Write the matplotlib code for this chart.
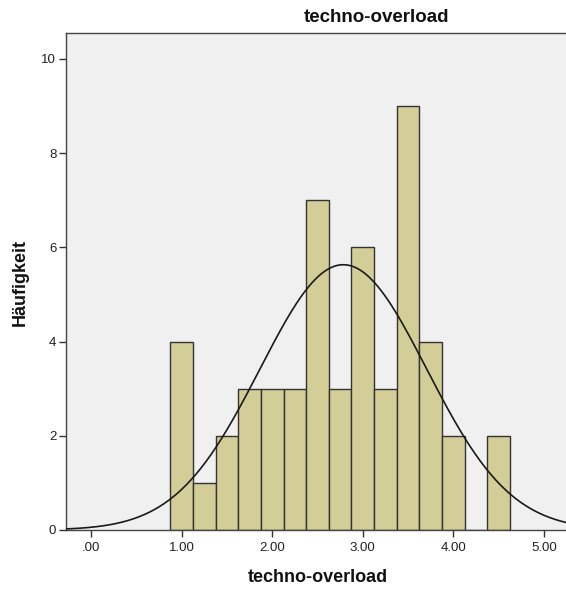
import numpy as np
import matplotlib
matplotlib.use("Agg")
import matplotlib.pyplot as plt

# ---- data ----
bin_centers = [1.00, 1.25, 1.50, 1.75, 2.00, 2.25, 2.50, 2.75, 3.00, 3.25, 3.50, 3.75, 4.00, 4.25, 4.50]
counts      = [4,    1,    2,    3,    3,    3,    7,    3,    6,    3,    9,    4,    2,    0,    2]
bin_width = 0.25
curve_mean = 2.785
curve_std = 0.921
n_total = sum(counts)
x_ticks = [0, 1, 2, 3, 4, 5]
x_tick_labels = [".00", "1.00", "2.00", "3.00", "4.00", "5.00"]
y_ticks = [0, 2, 4, 6, 8, 10]
title = "techno-overload"
x_label = "techno-overload"
y_label = "Häufigkeit"

plt.rcParams['font.family'] = ['Liberation Sans', 'DejaVu Sans']

fig = plt.figure(figsize=(5.66, 5.90), dpi=100)
fig.patch.set_facecolor("white")
ax = fig.add_axes([66/566, 1 - 530/590, 1 - 66/566, (530 - 33)/590])
ax.set_facecolor("#f0f0f0")

ax.bar(bin_centers, counts, width=bin_width, color="#d3ce97",
       edgecolor="#333333", linewidth=1.0, zorder=2)

xlim = (-0.276, 5.243)
xs = np.linspace(xlim[0], xlim[1], 400)
ys = n_total * bin_width / (curve_std * np.sqrt(2 * np.pi)) * np.exp(-0.5 * ((xs - curve_mean) / curve_std) ** 2)
ax.plot(xs, ys, color="#1a1a1a", linewidth=1.2, zorder=3)

ax.set_xlim(*xlim)
ax.set_ylim(0, 10.55)
ax.set_xticks(x_ticks)
ax.set_xticklabels(x_tick_labels)
ax.set_yticks(y_ticks)
ax.tick_params(axis="both", direction="out", length=5, width=1.0,
               color="#333333", labelsize=9.5, labelcolor="#222222")
ax.tick_params(axis="x", pad=3.5)
ax.tick_params(axis="y", pad=2)

for s in ["left", "bottom", "top"]:
    ax.spines[s].set_color("#444444")
    ax.spines[s].set_linewidth(1.0)
ax.spines["right"].set_visible(False)

fig.text(377/566, 1 - 17/590, title, ha="center", va="center",
         fontsize=13.5, fontweight="bold", color="#111111")
fig.text(318/566, 1 - 577/590, x_label, ha="center", va="center",
         fontsize=13, fontweight="bold", color="#111111")
fig.text(20/566, 1 - 283/590, y_label, ha="center", va="center",
         rotation=90, fontsize=13, fontweight="bold", color="#111111")

fig.savefig("out.png", dpi=100)
